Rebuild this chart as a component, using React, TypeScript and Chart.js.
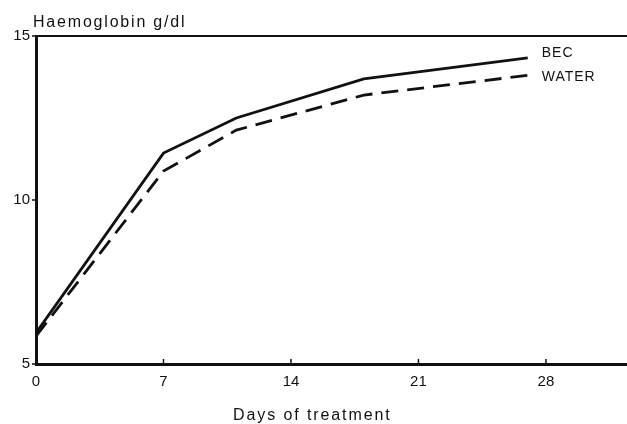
import React, { useEffect, useRef } from "react";
import { Chart, registerables } from "chart.js";

Chart.register(...registerables);

const days = [0, 7, 11, 18, 27];
const becValues = [5.95, 11.43, 12.5, 13.69, 14.33];
const waterValues = [5.85, 10.88, 12.13, 13.2, 13.8];
const seriesNames = ["BEC", "WATER"];
const xTickValues = [0, 7, 14, 21, 28];
const yTickValues = [5, 10, 15];
const yAxisTitle = "Haemoglobin g/dl";
const xAxisTitle = "Days of treatment";

const INK = "#111";
const FONT = "'Liberation Sans', Arial, sans-serif";

const textPlugin = {
  id: "textPlugin",
  afterDraw(chart: any) {
    const { ctx, chartArea } = chart;
    const xs = chart.scales.x;
    ctx.save();
    // inward x tick marks
    ctx.strokeStyle = INK;
    ctx.lineWidth = 1.5;
    xTickValues.forEach((v) => {
      if (v === 0) return;
      const px = xs.getPixelForValue(v);
      ctx.beginPath();
      ctx.moveTo(px, chartArea.bottom);
      ctx.lineTo(px, chartArea.bottom - 5);
      ctx.stroke();
    });
    ctx.fillStyle = INK;
    ctx.textAlign = "left";
    ctx.textBaseline = "alphabetic";
    // y axis title
    ctx.font = `16px ${FONT}`;
    (ctx as any).letterSpacing = "1.8px";
    ctx.fillText(yAxisTitle, chartArea.left - 3, 27);
    // x axis title
    ctx.font = `16px ${FONT}`;
    (ctx as any).letterSpacing = "1.9px";
    ctx.fillText(xAxisTitle, chartArea.left + 197, 420);
    // series labels
    ctx.font = `14px ${FONT}`;
    (ctx as any).letterSpacing = "1px";
    const offsets = [-1, 6];
    chart.data.datasets.forEach((ds: any, i: number) => {
      const meta = chart.getDatasetMeta(i);
      const last = meta.data[meta.data.length - 1];
      ctx.fillText(seriesNames[i], last.x + 14, last.y + offsets[i]);
    });
    ctx.restore();
  },
};

export default function App() {
  const ref = useRef<HTMLCanvasElement>(null);
  useEffect(() => {
    if (!ref.current) return;
    const chart = new Chart(ref.current, {
      type: "line",
      data: {
        datasets: [
          {
            label: seriesNames[0],
            data: days.map((d, i) => ({ x: d, y: becValues[i] })),
            borderColor: INK,
            borderWidth: 2.8,
            pointRadius: 0,
            tension: 0,
            fill: false,
          },
          {
            label: seriesNames[1],
            data: days.map((d, i) => ({ x: d, y: waterValues[i] })),
            borderColor: INK,
            borderWidth: 2.8,
            borderDash: [17, 9],
            pointRadius: 0,
            tension: 0,
            fill: false,
          },
        ],
      },
      options: {
        animation: false,
        responsive: false,
        layout: { padding: { top: 36, right: 0, left: 0, bottom: 0 } },
        plugins: {
          legend: { display: false },
          tooltip: { enabled: false },
          title: { display: false },
        },
        scales: {
          x: {
            type: "linear",
            min: 0,
            max: 32.45,
            afterBuildTicks: (scale: any) => {
              scale.ticks = xTickValues.map((v) => ({ value: v }));
            },
            afterFit: (scale: any) => {
              scale.height = 60;
            },
            grid: { display: false, drawTicks: false },
            border: { display: true, color: INK, width: 3 },
            ticks: {
              color: INK,
              font: { family: FONT, size: 15 },
              padding: 9,
              maxRotation: 0,
              autoSkip: false,
            },
          },
          y: {
            type: "linear",
            min: 5,
            max: 15,
            afterBuildTicks: (scale: any) => {
              scale.ticks = yTickValues.map((v) => ({ value: v }));
            },
            afterFit: (scale: any) => {
              scale.width = 36;
            },
            grid: {
              display: true,
              color: (c: any) => (c.tick && c.tick.value === 15 ? INK : "rgba(0,0,0,0)"),
              lineWidth: 2,
              drawTicks: true,
              tickLength: 4,
              tickColor: INK,
              tickWidth: 1.5,
            },
            border: { display: true, color: INK, width: 3 },
            ticks: {
              color: INK,
              font: { family: FONT, size: 15 },
              padding: 2,
            },
          },
        },
      },
      plugins: [textPlugin],
    });
    return () => chart.destroy();
  }, []);
  return (
    <div style={{ position: "fixed", left: 0, top: 0, width: 627, height: 424, background: "#fff" }}>
      <canvas ref={ref} width={627} height={424} style={{ display: "block" }} />
    </div>
  );
}
